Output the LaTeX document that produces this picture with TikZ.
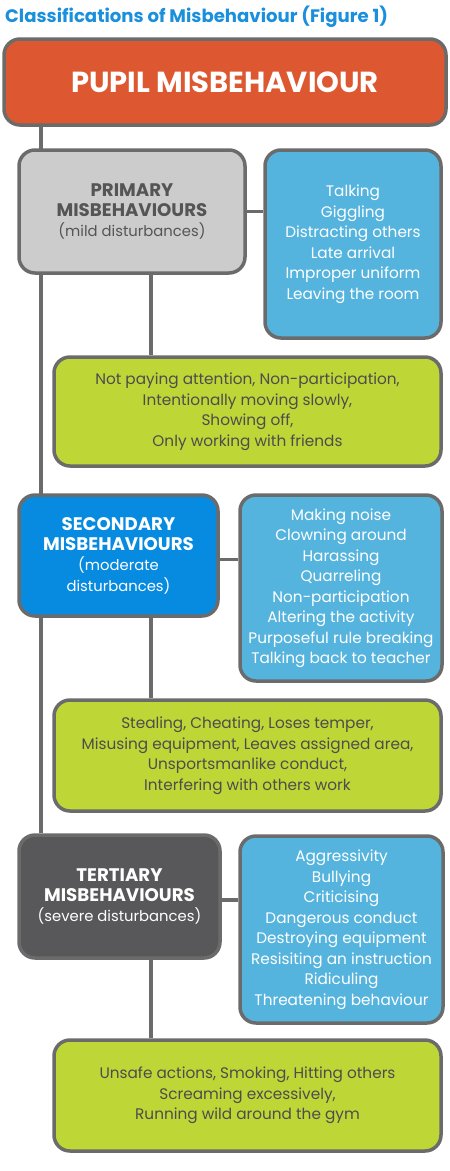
\documentclass[tikz,border=0pt]{standalone}
\usepackage{fontspec}
\setmainfont{Poppins}
\usetikzlibrary{backgrounds}
\definecolor{bordergray}{HTML}{6B6B6B}
\definecolor{orangefill}{HTML}{DD5830}
\definecolor{lightgray}{HTML}{CCCCCC}
\definecolor{darktext}{HTML}{555555}
\definecolor{titleblue}{HTML}{1A8FDC}
\definecolor{secblue}{HTML}{078BE1}
\definecolor{listblue}{HTML}{55B4DE}
\definecolor{greenfill}{HTML}{BFD637}
\definecolor{greentext}{HTML}{4D4D4D}
\definecolor{tertfill}{HTML}{58585A}
\newcommand{\subline}[1]{{\fontsize{14.8}{20.3}\selectfont #1}}
\begin{document}
\begin{tikzpicture}[x=1pt,y=-1pt,
  box/.style={draw=bordergray, line width=3.5pt, rounded corners=16pt, inner sep=0pt, align=center},
  listfont/.style={font=\fontsize{15.3}{20.5}\selectfont},
  headfont/.style={font=\fontsize{18.2}{20.3}\selectfont},
  conn/.style={draw=bordergray, line width=3.5pt}]
\useasboundingbox (0,0) rectangle (450,1171);
\node[anchor=base west, inner sep=0pt, text=titleblue, font=\bfseries\fontsize{18.1}{20}\selectfont] (title) at (5,22) {Classifications of Misbehaviour (Figure 1)};
\node[box, fill=orangefill, text=white, minimum width=442pt, minimum height=86pt, font=\bfseries\fontsize{29}{32}\selectfont] (top) at (225,82) {PUPIL MISBEHAVIOUR};
\node[box, fill=lightgray, text=darktext, minimum width=226pt, minimum height=123pt, headfont] (primary) at (132,211.5) {\textbf{PRIMARY}\\\textbf{MISBEHAVIOURS}\\\subline{(mild disturbances)}};
\node[box, fill=listblue, text=white, minimum width=176pt, minimum height=188pt, listfont] (list1) at (353,244) {Talking\\Giggling\\Distracting others\\Late arrival\\Improper uniform\\Leaving the room};
\node[box, fill=greenfill, text=greentext, minimum width=387pt, minimum height=109pt, listfont] (green1) at (247.5,411.5) {Not paying attention, Non-participation,\\Intentionally moving slowly,\\Showing off,\\Only working with friends};
\node[box, fill=secblue, text=white, minimum width=199pt, minimum height=121pt, headfont] (secondary) at (118.5,555.5) {\textbf{SECONDARY}\\\textbf{MISBEHAVIOURS}\\\subline{(moderate}\\\subline{disturbances)}};
\node[box, fill=listblue, text=white, minimum width=202pt, minimum height=186pt, listfont] (list2) at (341,588) {Making noise\\Clowning around\\Harassing\\Quarreling\\Non-participation\\Altering the activity\\Purposeful rule breaking\\Talking back to teacher};
\node[box, fill=greenfill, text=greentext, minimum width=387pt, minimum height=111pt, listfont] (green2) at (247.5,755.5) {Stealing, Cheating, Loses temper,\\Misusing equipment, Leaves assigned area,\\Unsportsmanlike conduct,\\Interfering with others work};
\node[box, fill=tertfill, text=white, minimum width=201pt, minimum height=123pt, headfont] (tertiary) at (119.5,896.5) {\textbf{TERTIARY}\\\textbf{MISBEHAVIOURS}\\\subline{(severe disturbances)}};
\node[box, fill=listblue, text=white, minimum width=203pt, minimum height=187pt, listfont] (list3) at (341.5,929.5) {Aggressivity\\Bullying\\Criticising\\Dangerous conduct\\Destroying equipment\\Resisiting an instruction\\Ridiculing\\Threatening behaviour};
\node[box, fill=greenfill, text=greentext, minimum width=387pt, minimum height=111pt, listfont] (green3) at (247.5,1095.5) {Unsafe actions, Smoking, Hitting others\\Screaming excessively,\\Running wild around the gym};
\coordinate (mx) at (41,0);
\coordinate (sx) at (151,0);
\begin{scope}[on background layer]
\draw[conn] (top.south -| mx) -- (tertiary.north -| mx);
\draw[conn] (primary.south -| sx) -- (green1.north -| sx);
\draw[conn] (secondary.south -| sx) -- (green2.north -| sx);
\draw[conn] (tertiary.south -| sx) -- (green3.north -| sx);
\draw[conn] (primary.east) -- (primary.east -| list1.west);
\draw[conn] ([yshift=-4pt]secondary.east) -- ([yshift=-4pt]secondary.east -| list2.west);
\draw[conn] ([yshift=-3.5pt]tertiary.east) -- ([yshift=-3.5pt]tertiary.east -| list3.west);
\end{scope}
\end{tikzpicture}
\end{document}
